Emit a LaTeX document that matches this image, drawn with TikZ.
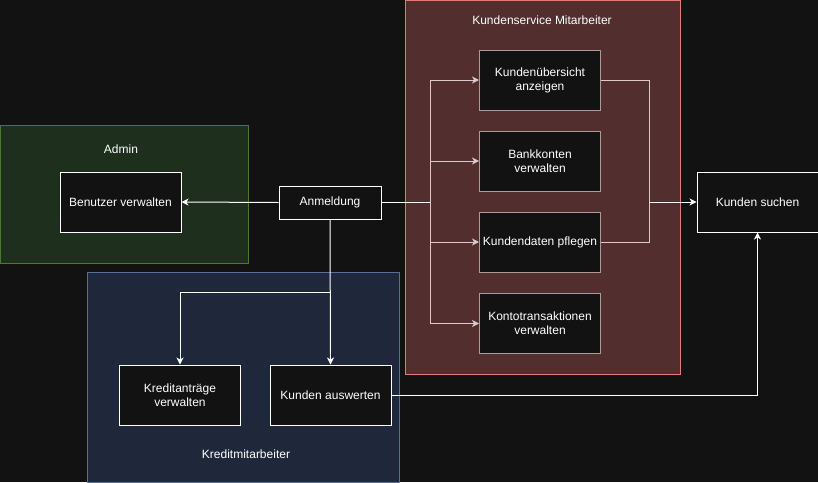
\documentclass[tikz,border=0pt]{standalone}
\usepackage{fontspec}
\setmainfont{Liberation Sans}
\usetikzlibrary{arrows.meta}

\definecolor{bgc}{HTML}{121212}
\definecolor{admfill}{HTML}{1F2F1E}
\definecolor{admline}{HTML}{4A7A2E}
\definecolor{ksfill}{HTML}{522E2E}
\definecolor{ksline}{HTML}{E07A75}
\definecolor{krfill}{HTML}{1E283A}
\definecolor{krline}{HTML}{566F98}
\definecolor{softline}{HTML}{DCCACA}
\definecolor{softbox}{HTML}{A89C9C}

\tikzset{
  box/.style={draw=white, fill=bgc, line width=1pt, minimum width=121pt, minimum height=60pt,
    align=center, text=white, font=\fontsize{12}{14}\selectfont, inner sep=1pt},
  innerbox/.style={box, draw=softbox},
  grouplabel/.style={text=white, font=\fontsize{12}{14}\selectfont},
  conn/.style={draw=white, line width=1pt},
  softconn/.style={draw=softline, line width=1pt},
  tip/.style={-{Stealth[length=7pt,width=7pt,inset=2pt]}}
}

\begin{document}
\begin{tikzpicture}[x=1pt,y=-1pt]
  \fill[bgc] (0,0) rectangle (818,482) ;
  \useasboundingbox (0,0) rectangle (818,482) ;

  % gruppen
  \filldraw[fill=admfill, draw=admline] (0.5,125.5) rectangle (248,263) ;
  \filldraw[fill=ksfill, draw=ksline] (405.5,0.5) rectangle (680,374) ;
  \filldraw[fill=krfill, draw=krline] (87.5,272.5) rectangle (399,482) ;
  \node[grouplabel] (admin) at (121,149) {Admin} ;
  \node[grouplabel] (ksma) at (542,20) {Kundenservice Mitarbeiter} ;
  \node[grouplabel] (krma) at (246,454) {Kreditmitarbeiter} ;

  % knoten
  \node[box] (bv) at (120.5,202) {Benutzer verwalten} ;
  \node[box, minimum width=102pt, minimum height=33pt] (anm) at (330,202.5) {Anmeldung} ;
  \node[innerbox] (kue) at (540,80) {Kundenübersicht\\anzeigen} ;
  \node[innerbox] (bk) at (540,161) {Bankkonten\\verwalten} ;
  \node[innerbox] (kdp) at (540,242) {Kundendaten pflegen} ;
  \node[innerbox] (ktv) at (540,323.5) {Kontotransaktionen\\verwalten} ;
  \node[box] (ks) at (757.5,202) {Kunden suchen} ;
  \node[box] (kav) at (180,395) {Kreditanträge\\verwalten} ;
  \node[box] (ka) at (330.5,395) {Kunden auswerten} ;

  \coordinate (lbus) at (430,202.5) ;
  \coordinate (rbus) at (649,202) ;
  \coordinate (split) at (330,292) ;

  % verbindungen
  \draw[conn, tip] (anm.west) -- (bv.east) ;
  \draw[conn] (anm.east) -- (lbus) ;
  \draw[softconn, tip] (lbus) |- (kue.west) ;
  \draw[softconn, tip] (lbus) |- (bk.west) ;
  \draw[softconn, tip] (lbus) |- (kdp.west) ;
  \draw[softconn, tip] (lbus) |- (ktv.west) ;
  \draw[softconn] (kue.east) -| (rbus) |- (kdp.east) ;
  \draw[conn, tip] (rbus) -- (ks.west) ;
  \draw[conn, tip] (anm.south) -- (ka.north) ;
  \draw[conn, tip] (split) -| (kav.north) ;
  \draw[conn, tip] (ka.east) -| (ks.south) ;
\end{tikzpicture}
\end{document}
